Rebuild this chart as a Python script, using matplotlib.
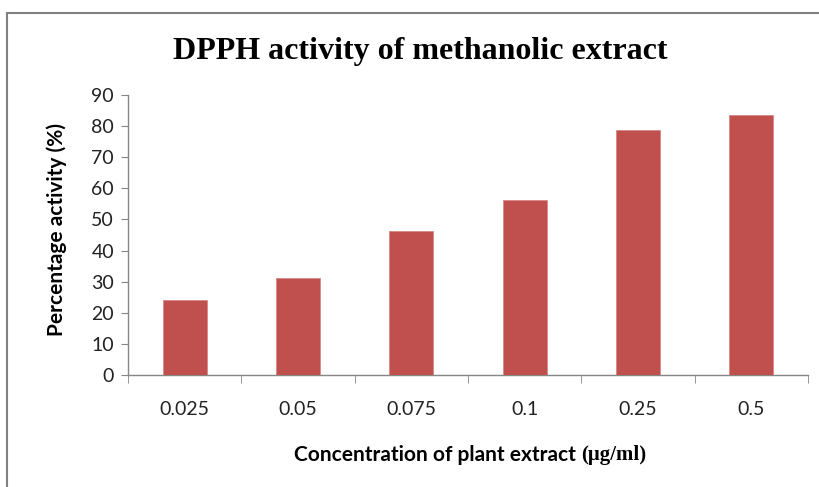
import matplotlib
matplotlib.use("Agg")
import matplotlib.pyplot as plt
from matplotlib.patches import Rectangle
import numpy as np

categories = ["0.025", "0.05", "0.075", "0.1", "0.25", "0.5"]
values = [24.1, 31.2, 46.2, 56.3, 78.7, 83.5]
yticks = [0, 10, 20, 30, 40, 50, 60, 70, 80, 90]

fig = plt.figure(figsize=(8.2, 4.87), dpi=100)
fig.patch.set_facecolor("white")
fig.patches.append(Rectangle((7/820, -0.1), 1.1, 1 - 13/487 + 0.1, transform=fig.transFigure,
                             fill=False, edgecolor="#808080", linewidth=1.5))

ax = fig.add_axes([128/820, 1 - 375/487, (808 - 128)/820, (375 - 95)/487])
x = np.arange(len(categories))
ax.bar(x, values, width=0.39, color="#C0504D", edgecolor="#D48A88", linewidth=0.6, zorder=3)

ax.set_xlim(-0.5, len(categories) - 0.5)
ax.set_ylim(0, 90)
ax.set_yticks(yticks)
ax.set_yticklabels([str(t) for t in yticks], fontsize=14, family="Lato", color="#222222")
ax.set_xticks(x)
ax.set_xticklabels(categories, fontsize=14, family="Lato", color="#222222")
ax.set_xticks(np.arange(-0.5, len(categories)), minor=True)
ax.tick_params(axis="x", which="major", length=0, pad=19)
ax.tick_params(axis="x", which="minor", length=6, color="#868686", direction="out")
ax.tick_params(axis="y", length=5, color="#868686", direction="out", pad=5)

for s in ["top", "right"]:
    ax.spines[s].set_visible(False)
for s in ["left", "bottom"]:
    ax.spines[s].set_color("#868686")
    ax.spines[s].set_linewidth(1.0)

fig.text(420/820, 1 - 51/487, "DPPH activity of methanolic extract", ha="center", va="center",
         fontsize=23, fontweight="bold", family="Liberation Serif")
fig.text(57/820, 1 - 230/487, "Percentage activity (%)", ha="center", va="center", rotation=90,
         fontsize=15, fontweight="bold", family="Lato")

# x label: sans part + serif unit
fig.canvas.draw()
r = fig.canvas.get_renderer()
t1 = fig.text(0, 1 - 455/487, "Concentration of plant extract ", ha="left", va="center",
              fontsize=15, fontweight="bold", family="Lato")
t2 = fig.text(0, 1 - 455/487, "(μg/ml)", ha="left", va="center",
              fontsize=15, fontweight="bold", family="Liberation Serif")
w1 = t1.get_window_extent(r).width
w2 = t2.get_window_extent(r).width
start = 470 - (w1 + w2) / 2
t1.set_x(start / 820)
t2.set_x((start + w1) / 820)

fig.savefig("out.png", dpi=100)
